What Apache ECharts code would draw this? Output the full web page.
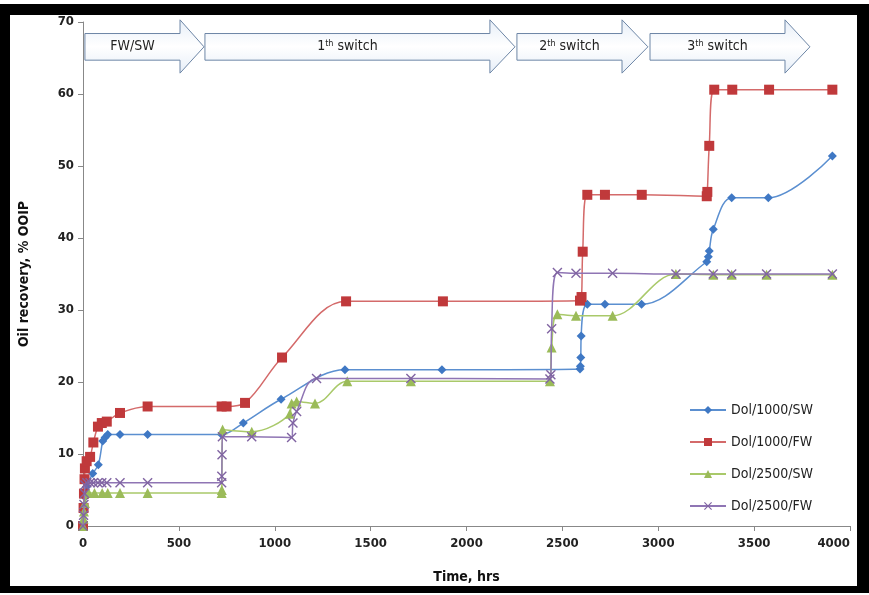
<!DOCTYPE html>
<html><head><meta charset="utf-8">
<script src="https://cdn.jsdelivr.net/npm/echarts@6/dist/echarts.min.js"></script>
<style>html,body{margin:0;padding:0;background:#fff}#c{width:869px;height:595px}</style>
</head><body><div id="c"></div>
<script>
// ---- data (hours, % OOIP) ----
var sw1000Time = [0,5,10,20,51,80,103,115,129,193,337,723,836,1033,1366,1872,2592,2594,2596,2598,2630,2722,2913,3253,3261,3266,3287,3383,3574,3908];
var sw1000Rec  = [0,2,4,5.5,7.3,8.5,11.8,12.3,12.7,12.7,12.7,12.7,14.3,17.6,21.7,21.7,21.8,22.2,23.4,26.4,30.8,30.8,30.8,36.7,37.4,38.2,41.2,45.6,45.6,51.4];
var fw1000Time = [0,3,5,8,10,19,37,54,78,98,124,193,337,723,749,845,1038,1372,1877,2592,2600,2606,2630,2722,2914,3253,3256,3266,3292,3386,3578,3908];
var fw1000Rec  = [0,2.5,4.5,6.5,8,9,9.6,11.6,13.8,14.3,14.5,15.7,16.6,16.6,16.6,17.1,23.4,31.2,31.2,31.3,31.8,38.1,46,46,46,45.8,46.4,52.8,60.6,60.6,60.6,60.6];
var sw2500Time = [0,3,5,10,30,60,100,129,193,337,723,724,728,880,1079,1088,1114,1210,1378,1710,2435,2444,2474,2571,2762,3092,3287,3383,3565,3908];
var sw2500Rec  = [0,1,2,3.2,4.6,4.6,4.6,4.6,4.6,4.6,4.6,5.0,13.4,13.1,15.6,17.0,17.3,17.0,20.1,20.1,20.1,24.8,29.4,29.2,29.2,35.0,34.9,34.9,34.9,34.9];
var fw2500Time = [0,3,5,8,10,20,37,54,78,98,124,193,337,723,724,725,727,880,1088,1095,1114,1218,1710,2435,2440,2444,2474,2571,2762,3092,3287,3383,3565,3908];
var fw2500Rec  = [0,1.5,3,4.5,5.7,6,6,6,6,6,6,6,6,6,6.9,9.9,12.4,12.4,12.3,14.3,15.9,20.5,20.5,20.4,21.0,27.4,35.2,35.1,35.1,35.0,35.0,35.0,35.0,35.0];
var seriesNames = ['Dol/1000/SW','Dol/1000/FW','Dol/2500/SW','Dol/2500/FW'];
// injection stage arrows (hours): start, head start, tip
var stageStart = [10, 636, 2263, 2957];
var stageHead  = [506, 2122, 2811, 3661];
var stageTip   = [631, 2253, 2946, 3791];
var stageLabel = ['FW/SW', '{n|1}{s|th}{n| switch}', '{n|2}{s|th}{n| switch}', '{n|3}{s|th}{n| switch}'];
var xTicks = {min:0, max:4000, interval:500};
var yTicks = {min:0, max:70, interval:10};

function pairs(t, v){ return t.map(function(x,i){ return [x, v[i]]; }); }
var FONT = '"DejaVu Sans Condensed","Liberation Sans Narrow",sans-serif';
var xPath = 'path://M0,1 L1,0 L5,4 L9,0 L10,1 L6,5 L10,9 L9,10 L5,6 L1,10 L0,9 L4,5 Z';
var colors = ['#3f78c4','#c0393b','#9bbb59','#8064a2'];
var lineColors = ['#5b8fd0','#d46a6a','#a9c96a','#8f75b4'];
var symbols = ['diamond','rect', 'triangle', xPath];
var sizes = [9, 10, 10, 10];
var datas = [pairs(sw1000Time,sw1000Rec), pairs(fw1000Time,fw1000Rec), pairs(sw2500Time,sw2500Rec), pairs(fw2500Time,fw2500Rec)];

var series = seriesNames.map(function(n,i){
  return {
    name:n, type:'line', data:datas[i], smooth:0.35,
    symbol:symbols[i], symbolSize:sizes[i], showAllSymbol:true,
    itemStyle:{color:colors[i]}, lineStyle:{color:lineColors[i], width:1.5},
    z: 2+i
  };
});
series.push({
  type:'custom', silent:true, z:10,
  data: stageStart.map(function(s,i){ return [s, stageHead[i], stageTip[i], i]; }),
  encode:{x:[0,2]},
  renderItem:function(params, api){
    var s = api.coord([api.value(0), 68.4]);
    var h = api.coord([api.value(1), 64.7]);
    var t = api.coord([api.value(2), 66.55]);
    var ht = api.coord([api.value(1), 70.3]);
    var hb = api.coord([api.value(1), 62.9]);
    var pts = [[s[0],s[1]],[h[0],s[1]],[h[0],ht[1]],[t[0],t[1]],[h[0],hb[1]],[h[0],h[1]],[s[0],h[1]]];
    var idx = api.value(3);
    return {type:'group', children:[
      {type:'polygon', shape:{points:pts},
       style:{fill:new echarts.graphic.LinearGradient(0,0,0,1,[{offset:0,color:'#e6eef8'},{offset:0.5,color:'#ffffff'},{offset:1,color:'#e6eef8'}]), stroke:'#6d86a6', lineWidth:1}},
      {type:'text', x:(s[0]+h[0])/2, y:(s[1]+h[1])/2,
       style:{text:stageLabel[idx], align:'center', verticalAlign:'middle', fill:'#222', font:'14px '+FONT,
         rich:{n:{fontSize:14, fontFamily:FONT, fill:'#222'}, s:{fontSize:9, fontFamily:FONT, verticalAlign:'top', fill:'#222', padding:[0,0,6,0]}}}}
    ]};
  }
});

var chart = echarts.init(document.getElementById('c'));
chart.setOption({
  animation:false,
  backgroundColor:'#fff',
  grid:{left:83, right:19, top:22, bottom:69},
  xAxis:{type:'value', min:xTicks.min, max:xTicks.max, interval:xTicks.interval,
    name:'Time, hrs', nameLocation:'middle', nameGap:44,
    nameTextStyle:{fontFamily:FONT, fontWeight:'bold', fontSize:14, color:'#111'},
    axisLine:{show:true, lineStyle:{color:'#888'}}, axisTick:{show:true, length:5, lineStyle:{color:'#888'}},
    splitLine:{show:false},
    axisLabel:{fontFamily:FONT, fontWeight:'bold', fontSize:13, color:'#222', margin:11, alignMaxLabel:'right', formatter:function(v){return String(v);}}},
  yAxis:{type:'value', min:yTicks.min, max:yTicks.max, interval:yTicks.interval,
    name:'Oil recovery, % OOIP', nameLocation:'middle', nameGap:52,
    nameTextStyle:{fontFamily:FONT, fontWeight:'bold', fontSize:14, color:'#111'},
    axisLine:{show:true, lineStyle:{color:'#888'}}, axisTick:{show:true, length:5, lineStyle:{color:'#888'}},
    splitLine:{show:false},
    axisLabel:{fontFamily:FONT, fontWeight:'bold', fontSize:13, color:'#222', margin:9}},
  legend:{orient:'vertical', left:684, top:398, itemGap:18, itemWidth:36, itemHeight:10,
    data:seriesNames, textStyle:{fontFamily:FONT, fontSize:14, color:'#222'}},
  series:series,
  graphic:[
    {type:'rect', silent:true, z:100, shape:{x:0, y:4, width:869, height:11}, style:{fill:'#000'}},
    {type:'rect', silent:true, z:100, shape:{x:0, y:4, width:10, height:589}, style:{fill:'#000'}},
    {type:'rect', silent:true, z:100, shape:{x:857, y:4, width:12, height:589}, style:{fill:'#000'}},
    {type:'rect', silent:true, z:100, shape:{x:0, y:586, width:869, height:7}, style:{fill:'#000'}}
  ]
});
</script></body></html>
